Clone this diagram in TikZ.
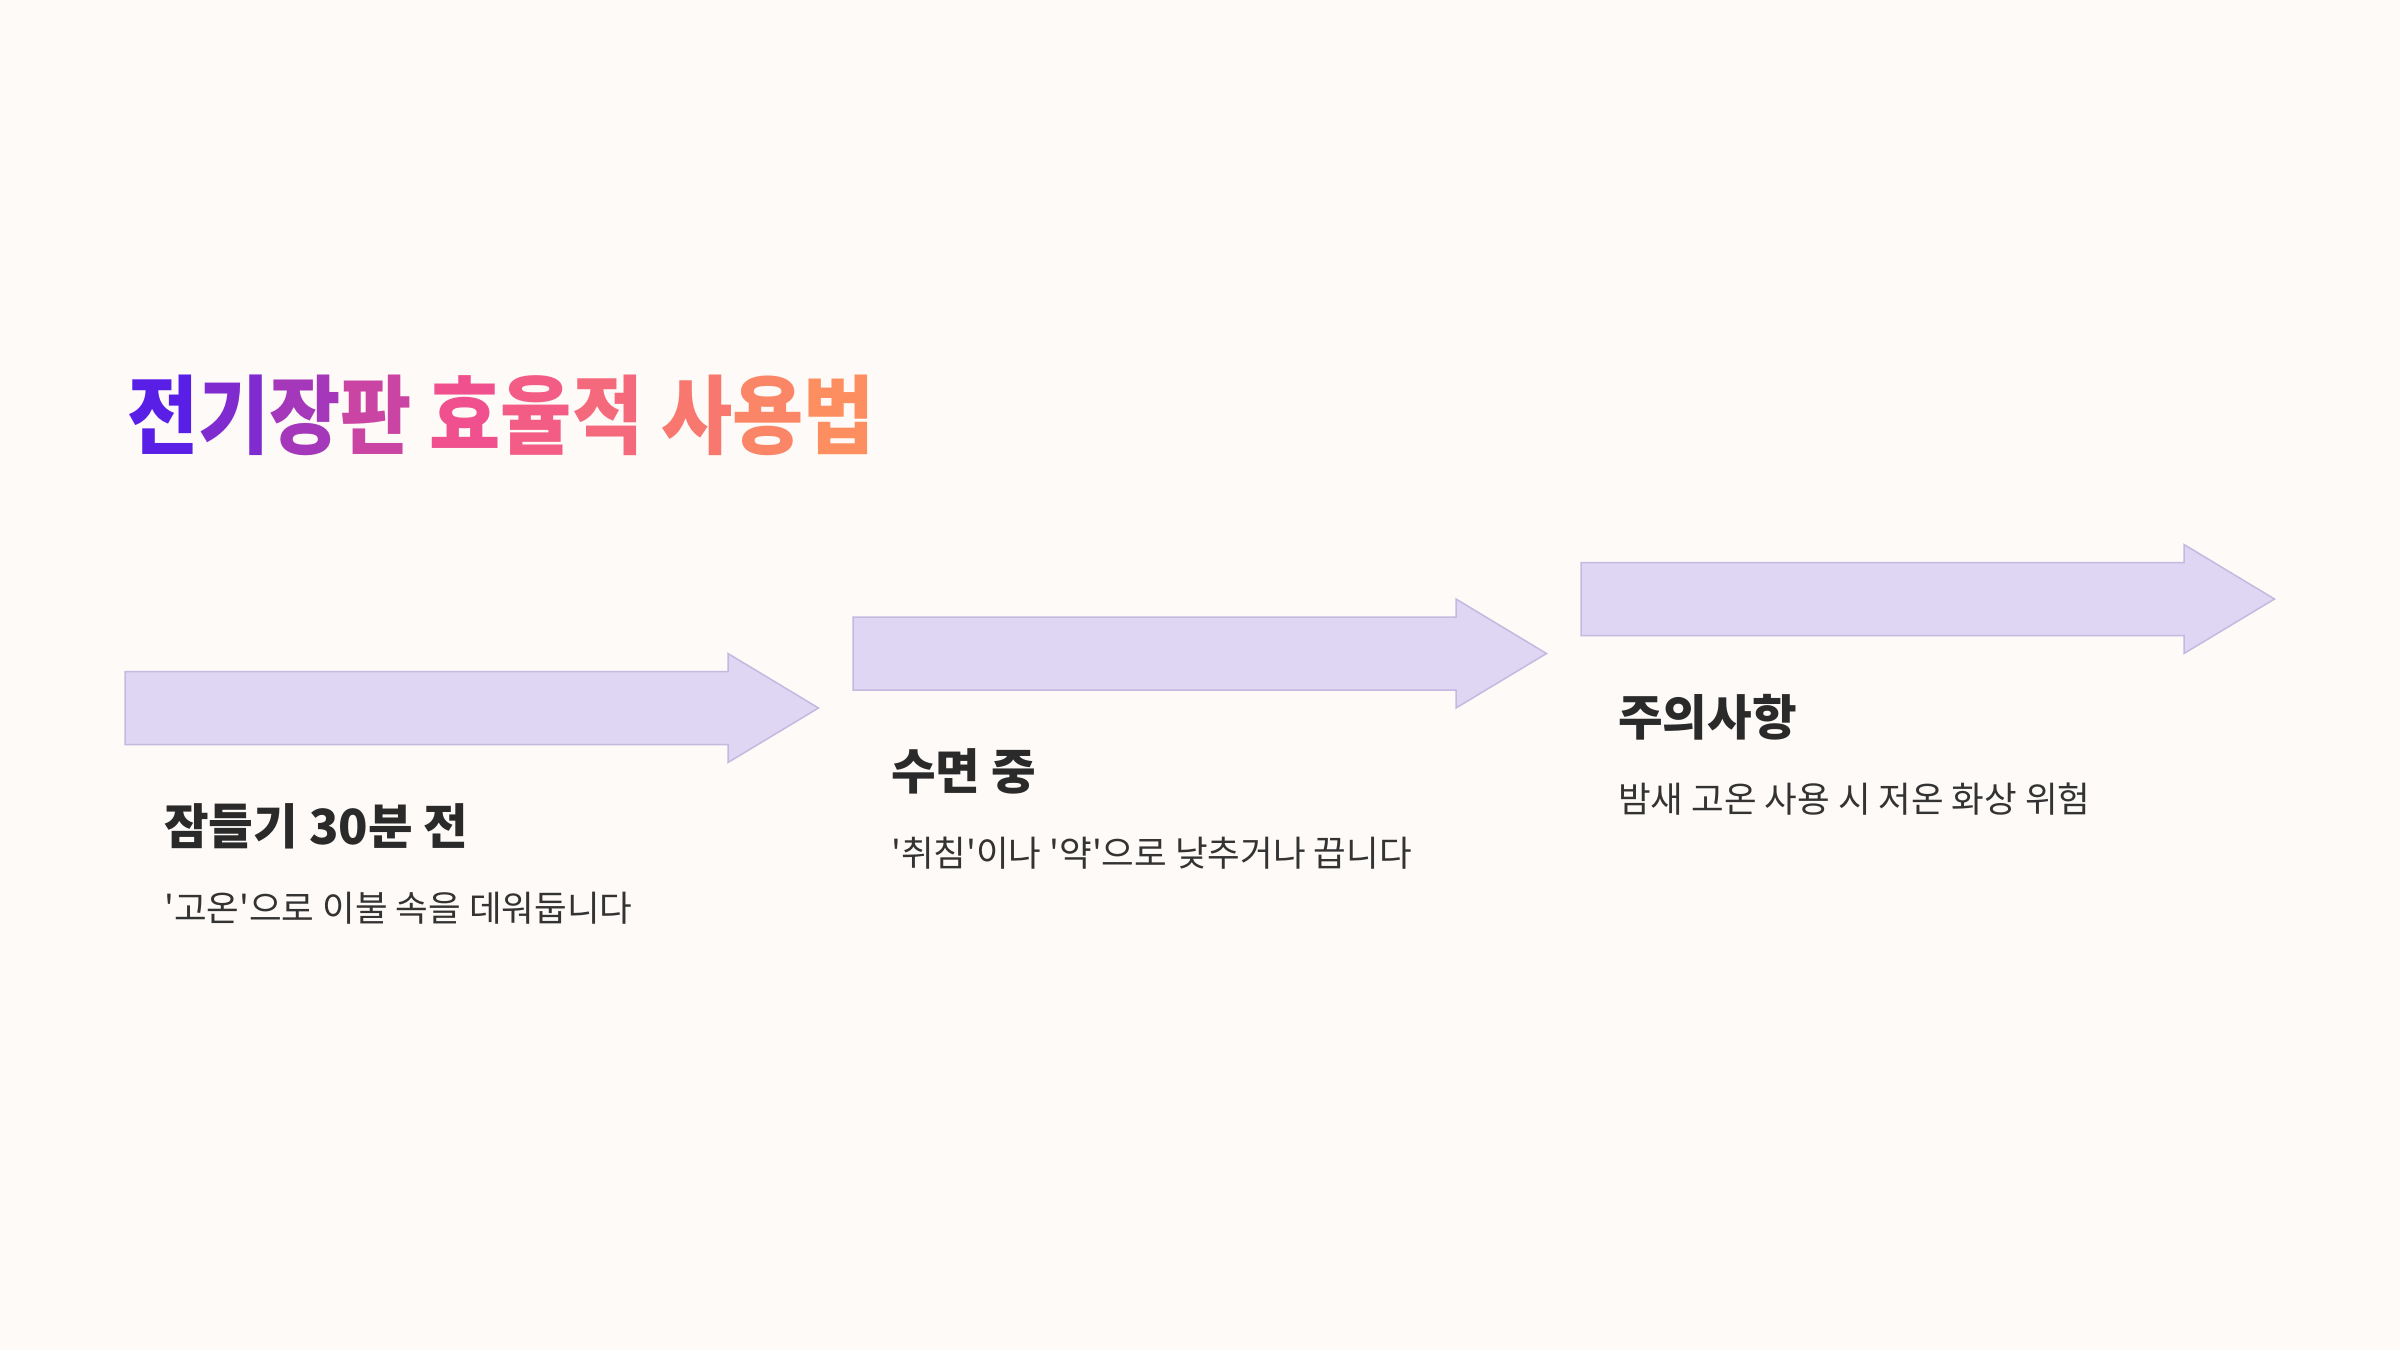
\documentclass[tikz,border=0pt]{standalone}
\usepackage{fontspec}
\newfontfamily\krfont[FakeStretch=0.9]{Noto Sans CJK KR}
\newfontfamily\krplain{Noto Sans CJK KR}
\definecolor{bgcol}{HTML}{FDFAF7}
\definecolor{arrowfill}{HTML}{DFD6F3}
\definecolor{arrowline}{HTML}{C5B9E0}
\definecolor{headcol}{HTML}{2A2A2A}
\definecolor{subcol}{HTML}{333333}
\definecolor{gA}{HTML}{5A1FE6}
\definecolor{gB}{HTML}{F0508E}
\definecolor{gC}{HTML}{FD8E60}
\tikzset{
  steparrow/.style={fill=arrowfill, draw=arrowline, line width=1.5pt, line join=miter},
  headtext/.style={anchor=base west, inner sep=0, text=headcol, font=\krplain\bfseries\fontsize{48.5}{56}\selectfont},
  subtext/.style={anchor=base west, inner sep=0, text=subcol, font=\krplain\fontsize{35.5}{42}\selectfont},
  titletext/.style={anchor=base west, inner sep=0, font=\krfont\bfseries\fontsize{86}{98}\selectfont}
}
\begin{document}
\begin{tikzpicture}[x=1pt,y=-1pt]
\fill[bgcol] (0,0) rectangle (2400,1350);
\useasboundingbox (0,0) rectangle (2400,1350);
% title with gradient colours
\node[titletext] (title) at (127,447) {%
\textcolor{gA}{전}\textcolor{gA!75!gB}{기}\textcolor{gA!50!gB}{장}\textcolor{gA!25!gB}{판} %
\textcolor{gB}{효}\textcolor{gB!80!gC}{율}\textcolor{gB!60!gC}{적} %
\textcolor{gB!35!gC}{사}\textcolor{gB!15!gC}{용}\textcolor{gC}{법}};
% arrows
\foreach \n/\x/\y in {a1/125/708, a2/853/653.5, a3/1581/599}{
  \draw[steparrow] (\x,\y-36.5) -- ++(603,0) -- ++(0,-18) -- (\x+693.5,\y)
    -- (\x+603,\y+54.5) -- ++(0,-18) -- (\x,\y+36.5) -- cycle;
}
% texts
\node[headtext] (h1) at (164,844) {잠들기 30분 전};
\node[subtext] (s1) at (164,921) {'고온'으로 이불 속을 데워둡니다};
\node[headtext] (h2) at (891,789.5) {수면 중};
\node[subtext] (s2) at (891,866.5) {'취침'이나 '약'으로 낮추거나 끕니다};
\node[headtext] (h3) at (1618,735) {주의사항};
\node[subtext] (s3) at (1618,812) {밤새 고온 사용 시 저온 화상 위험};
\end{tikzpicture}
\end{document}
